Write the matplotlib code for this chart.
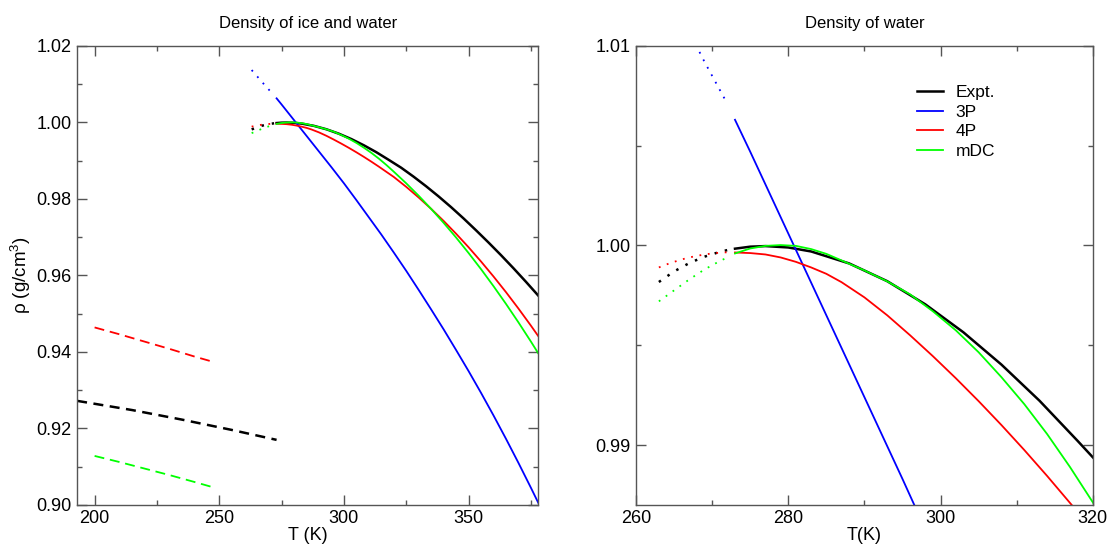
import numpy as np
import matplotlib
matplotlib.use("Agg")
import matplotlib.pyplot as plt
from matplotlib.ticker import MultipleLocator, FormatStrFormatter

plt.rcParams['font.family'] = ['Liberation Sans', 'DejaVu Sans']
plt.rcParams['mathtext.fontset'] = 'custom'
plt.rcParams['mathtext.rm'] = 'Liberation Sans'

# ---- data ----
# experiment, liquid (supercooled part dotted)
T_exp_sc = [263, 265, 267, 269, 271, 272]
rho_exp_sc = [0.99817, 0.99870, 0.99912, 0.99944, 0.99968, 0.99977]
T_exp = [273, 275, 277, 280, 283, 288, 293, 298, 303, 308, 313, 318, 323,
         328, 333, 338, 343, 348, 353, 358, 363, 368, 373, 378]
rho_exp = [0.99984, 0.99994, 0.99997, 0.99990, 0.99970, 0.99910, 0.99821,
           0.99705, 0.99565, 0.99403, 0.99222, 0.99021, 0.98815, 0.98580,
           0.98330, 0.98065, 0.97785, 0.97490, 0.97180, 0.96861, 0.96531,
           0.96189, 0.95835, 0.95470]

# 3P
T_3p_sc = [263, 265, 267, 269, 271, 272]
rho_3p_sc = [1.0137, 1.0122, 1.0107, 1.0092, 1.0078, 1.0071]
T_3p = [273, 275, 280, 285, 290, 295, 300, 305, 310, 315, 320, 325, 330,
        335, 340, 345, 350, 355, 360, 365, 370, 375, 378]
rho_3p = [1.0063, 1.0047, 1.0006, 0.9965, 0.9924, 0.9883, 0.9841, 0.9797,
          0.9752, 0.9707, 0.9660, 0.9612, 0.9562, 0.9511, 0.9459, 0.9405,
          0.9350, 0.9293, 0.9234, 0.9173, 0.9110, 0.9045, 0.9005]

# 4P
T_4p_sc = [263, 264, 265, 266, 267, 268, 269, 270, 271, 272]
rho_4p_sc = [0.99890, 0.99905, 0.99918, 0.99930, 0.99940, 0.99948, 0.99955,
             0.99960, 0.99964, 0.99966]
T_4p = [273, 275, 277, 279, 281, 283, 285, 287, 290, 293, 296, 299, 302,
        305, 308, 311, 314, 317, 320, 325, 330, 335, 340, 345, 350, 355,
        360, 365, 370, 375, 378]
rho_4p = [0.99965, 0.99962, 0.99955, 0.99940, 0.99918, 0.99890, 0.99858,
          0.99816, 0.99740, 0.99650, 0.99550, 0.99445, 0.99335, 0.99220,
          0.99100, 0.98975, 0.98845, 0.98710, 0.98575, 0.98316, 0.98037,
          0.97740, 0.97425, 0.97090, 0.96737, 0.96364, 0.95973, 0.95564,
          0.95135, 0.94688, 0.94410]

# mDC
T_mdc_sc = [263, 265, 267, 269, 271, 272]
rho_mdc_sc = [0.99720, 0.99775, 0.99830, 0.99880, 0.99922, 0.99940]
T_mdc = [273, 275, 277, 279, 281, 283, 285, 287, 290, 293, 296, 299, 302,
         305, 308, 311, 314, 317, 320, 325, 330, 335, 340, 345, 350, 355,
         360, 365, 370, 375, 378]
rho_mdc = [0.99960, 0.99985, 0.99998, 1.00002, 0.99998, 0.99982, 0.99958,
           0.99925, 0.99875, 0.99820, 0.99755, 0.99670, 0.99575, 0.99465,
           0.99340, 0.99205, 0.99055, 0.98890, 0.98713, 0.98408, 0.98083,
           0.97739, 0.97375, 0.96991, 0.96587, 0.96164, 0.95720, 0.95257,
           0.94774, 0.94272, 0.93960]

# ice (dashed)
T_ice_exp = [193, 215, 235, 255, 273]
rho_ice_exp = [0.9272, 0.9248, 0.9223, 0.9196, 0.9170]
T_ice_4p = [200, 210, 220, 230, 240, 247]
rho_ice_4p = [0.9464, 0.9446, 0.9427, 0.9408, 0.9388, 0.9375]
T_ice_mdc = [200, 210, 220, 230, 240, 247]
rho_ice_mdc = [0.9128, 0.9112, 0.9095, 0.9078, 0.9060, 0.9047]

BLACK, BLUE, RED, GREEN = 'black', '#0000ff', '#ff0000', '#00ff00'
lw_b, lw_c = 1.8, 1.3
dot_b = (0, (1, 3.2))
dot_c = (0, (1, 3.7))

fig = plt.figure(figsize=(11.1, 5.47), dpi=100)
ax1 = fig.add_axes([0.0695, 0.077, 0.4155, 0.839])
ax2 = fig.add_axes([0.573, 0.077, 0.4115, 0.839])


def liquid(ax):
    ax.plot(T_exp_sc, rho_exp_sc, color=BLACK, lw=lw_b, ls=dot_b)
    ax.plot(T_3p_sc, rho_3p_sc, color=BLUE, lw=lw_c, ls=dot_c)
    ax.plot(T_4p_sc, rho_4p_sc, color=RED, lw=lw_c, ls=dot_c)
    ax.plot(T_mdc_sc, rho_mdc_sc, color=GREEN, lw=lw_c, ls=dot_c)
    ax.plot(T_exp, rho_exp, color=BLACK, lw=lw_b, label='Expt.')
    ax.plot(T_3p, rho_3p, color=BLUE, lw=lw_c, label='3P')
    ax.plot(T_4p, rho_4p, color=RED, lw=lw_c, label='4P')
    ax.plot(T_mdc, rho_mdc, color=GREEN, lw=lw_c, label='mDC')


liquid(ax1)
ax1.plot(T_ice_exp, rho_ice_exp, color=BLACK, lw=lw_b, dashes=(4, 2.6))
ax1.plot(T_ice_4p, rho_ice_4p, color=RED, lw=lw_c, dashes=(5.5, 3.2))
ax1.plot(T_ice_mdc, rho_ice_mdc, color=GREEN, lw=lw_c, dashes=(5.5, 3.2))

liquid(ax2)

ax1.set_xlim(193, 378)
ax1.set_ylim(0.90, 1.02)
ax1.xaxis.set_major_locator(MultipleLocator(50))
ax1.xaxis.set_minor_locator(MultipleLocator(25))
ax1.yaxis.set_major_locator(MultipleLocator(0.02))
ax1.yaxis.set_minor_locator(MultipleLocator(0.01))
ax1.yaxis.set_major_formatter(FormatStrFormatter('%.2f'))

ax2.set_xlim(260, 320)
ax2.set_ylim(0.987, 1.01)
ax2.xaxis.set_major_locator(MultipleLocator(20))
ax2.xaxis.set_minor_locator(MultipleLocator(10))
ax2.yaxis.set_major_locator(MultipleLocator(0.01))
ax2.yaxis.set_minor_locator(MultipleLocator(0.005))
ax2.yaxis.set_major_formatter(FormatStrFormatter('%.2f'))

for ax in (ax1, ax2):
    for s in ax.spines.values():
        s.set_color('#555555')
        s.set_linewidth(1.0)
    ax.tick_params(which='both', direction='in', top=True, right=True,
                   color='#555555', width=1.0, labelsize=13)
    ax.tick_params(which='major', length=7, pad=4)
    ax.tick_params(which='minor', length=3.5)

ax1.set_title('Density of ice and water', fontsize=12, pad=13)
ax2.set_title('Density of water', fontsize=12, pad=13)
ax1.set_xlabel('T (K)', fontsize=13, labelpad=0)
ax2.set_xlabel('T(K)', fontsize=13, labelpad=0)
ax1.set_ylabel('ρ (g/cm$^3$)', fontsize=13.5)
ax1.yaxis.set_label_coords(-0.095, 0.5)

ax2.legend(loc='upper left', bbox_to_anchor=(0.616, 0.915), frameon=False,
           fontsize=12.5, handlelength=1.45, handletextpad=0.75,
           labelspacing=0.26, borderpad=0, borderaxespad=0)

fig.savefig('out.png', dpi=100)
